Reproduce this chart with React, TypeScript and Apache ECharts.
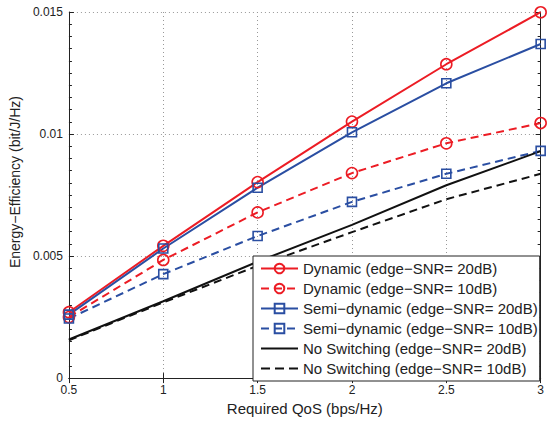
import React, { useEffect, useRef } from "react";
import * as echarts from "echarts";

const qos = [0.5, 1, 1.5, 2, 2.5, 3];
const dyn20 = [0.0027, 0.00542, 0.00803, 0.01051, 0.01286, 0.01499];
const dyn10 = [0.0025, 0.00484, 0.00679, 0.0084, 0.00962, 0.01045];
const semi20 = [0.0026, 0.00531, 0.0078, 0.01007, 0.01208, 0.01369];
const semi10 = [0.00244, 0.00426, 0.00582, 0.00722, 0.00837, 0.00931];
const noSw20 = [0.00158, 0.00315, 0.00477, 0.00628, 0.0079, 0.0093];
const noSw10 = [0.00155, 0.0031, 0.0046, 0.00598, 0.00733, 0.00837];
const yTicks = [0, 0.005, 0.01, 0.015];
const names = [
  "Dynamic (edge\u2212SNR= 20dB)",
  "Dynamic (edge\u2212SNR= 10dB)",
  "Semi\u2212dynamic (edge\u2212SNR= 20dB)",
  "Semi\u2212dynamic (edge\u2212SNR= 10dB)",
  "No Switching (edge\u2212SNR= 20dB)",
  "No Switching (edge\u2212SNR= 10dB)",
];

const RED = "#ec1c24";
const BLUE = "#2a4ea2";
const BLACK = "#111111";
const FONT = "Liberation Sans";

const pair = (ys: number[]) => qos.map((x, i) => [x, ys[i]]);

export default function App() {
  const ref = useRef<HTMLDivElement>(null);
  useEffect(() => {
    const chart = echarts.init(ref.current!, undefined, { renderer: "svg" });
    const mk = (
      name: string,
      ys: number[],
      color: string,
      dashed: boolean,
      symbol: string,
      size: number
    ) => ({
      name,
      type: "line",
      data: pair(ys),
      symbol,
      symbolSize: size,
      showSymbol: symbol !== "none",
      lineStyle: { color, width: 2, type: dashed ? [8, 5] : "solid" },
      itemStyle: { color: "none", borderColor: color, borderWidth: 1.6 },
      z: 3,
    });
    const axisCommon = {
      axisLine: { show: true, lineStyle: { color: "#222", width: 1 } },
      axisTick: { show: true, inside: true, length: 5, lineStyle: { color: "#222" } },
    };
    const solidIcon = "path://M0,0H37V2H0Z";
    const dashIcon = "path://M0,0H9V2H0Z M14,0H23V2H14Z M28,0H37V2H28Z";
    chart.setOption({
      animation: false,
      backgroundColor: "#fff",
      textStyle: { fontFamily: FONT },
      grid: { left: 66, right: 4, top: 12, bottom: 38 },
      xAxis: [
        {
          type: "value",
          min: 0.5,
          max: 3,
          interval: 0.5,
          name: "Required QoS (bps/Hz)",
          nameLocation: "middle",
          nameGap: 20,
          nameTextStyle: { fontSize: 15, color: "#222", fontFamily: FONT },
          axisLabel: { fontSize: 12, color: "#222", margin: 6, fontFamily: FONT },
          splitLine: { show: true, lineStyle: { color: "#999", type: [1, 3], width: 1 } },
          ...axisCommon,
        },
        {
          type: "value",
          position: "top",
          min: 0.5,
          max: 3,
          interval: 0.5,
          axisLabel: { show: false },
          splitLine: { show: false },
          ...axisCommon,
        },
      ],
      yAxis: [
        {
          type: "value",
          min: 0,
          max: 0.015,
          interval: 0.005,
          name: "Energy\u2212Efficiency (bit/J/Hz)",
          nameLocation: "middle",
          nameGap: 44,
          nameTextStyle: { fontSize: 14, color: "#222", fontFamily: FONT, padding: [0, 0, 0, 26] },
          axisLabel: {
            fontSize: 12,
            color: "#222",
            margin: 6,
            fontFamily: FONT,
            formatter: (v: number) => {
              const t = yTicks.find((k) => Math.abs(k - v) < 1e-9);
              return t === undefined ? "" : String(t);
            },
          },
          minorTick: { show: true, splitNumber: 10, length: 3, lineStyle: { color: "#222" } },
          splitLine: { show: true, lineStyle: { color: "#999", type: [1, 3], width: 1 } },
          ...axisCommon,
        },
        {
          type: "value",
          position: "right",
          min: 0,
          max: 0.015,
          interval: 0.005,
          axisLabel: { show: false },
          minorTick: { show: true, splitNumber: 10, length: 3, lineStyle: { color: "#222" } },
          splitLine: { show: false },
          ...axisCommon,
        },
      ],
      legend: {
        left: 253,
        top: 256,
        orient: "vertical",
        backgroundColor: "#fff",
        borderColor: "#222",
        borderWidth: 1,
        borderRadius: 0,
        padding: [5, 2, 5, 7],
        itemWidth: 37,
        itemHeight: 12,
        itemGap: 5,
        textStyle: { fontSize: 15, color: "#222", fontFamily: FONT },
        data: [
          { name: names[0] },
          { name: names[1] },
          { name: names[2] },
          { name: names[3] },
          { name: names[4], icon: solidIcon, itemStyle: { color: BLACK, borderWidth: 0 } },
          { name: names[5], icon: dashIcon, itemStyle: { color: BLACK, borderWidth: 0 } },
        ],
      },
      series: [
        mk(names[0], dyn20, RED, false, "circle", 11),
        mk(names[1], dyn10, RED, true, "circle", 11),
        mk(names[2], semi20, BLUE, false, "rect", 9),
        mk(names[3], semi10, BLUE, true, "rect", 9),
        mk(names[4], noSw20, BLACK, false, "none", 0),
        mk(names[5], noSw10, BLACK, true, "none", 0),
      ],
    });
    return () => chart.dispose();
  }, []);
  return (
    <div
      ref={ref}
      style={{ position: "fixed", left: 0, top: 0, width: 547, height: 421 }}
    />
  );
}
